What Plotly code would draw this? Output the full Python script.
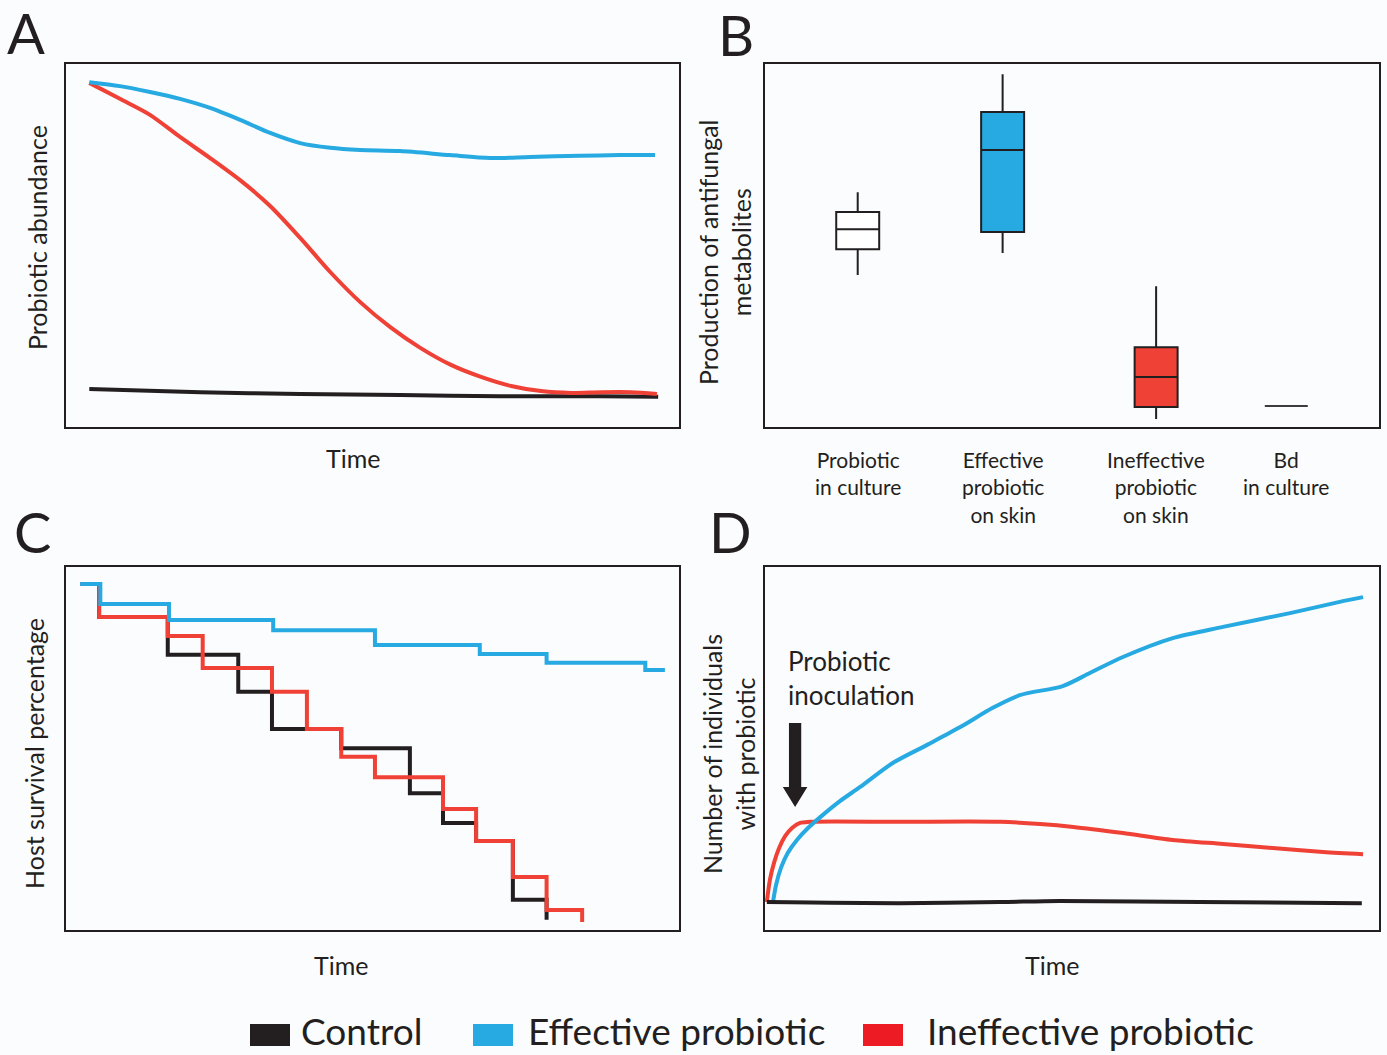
import plotly.graph_objects as go

# ---------------------------------------------------------------- data
# Panel A: probiotic abundance over time (arbitrary units, 0-100)
a_eff_t = [3.8, 8.8, 13.7, 18.6, 23.5, 28.4, 33.3, 38.2, 43.1, 48.0, 54.5, 62.6, 69.2, 75.7, 83.8, 90.4, 96.1]
a_eff_v = [95.0, 93.9, 92.3, 90.4, 87.9, 84.6, 81.0, 78.2, 76.9, 76.3, 76.0, 74.9, 74.1, 74.4, 74.7, 74.9, 74.9]
a_ineff_t = [3.8, 8.8, 13.7, 18.6, 23.5, 28.4, 33.3, 38.2, 43.1, 48.0, 52.9, 57.8, 62.8, 67.7, 72.6, 77.5, 82.4, 87.3, 92.2, 96.4]
a_ineff_v = [94.8, 90.4, 86.0, 79.9, 74.1, 68.0, 60.9, 52.1, 42.7, 34.4, 27.5, 21.8, 17.1, 13.8, 11.3, 9.9, 9.4, 9.6, 9.6, 9.1]
a_ctrl_t = [3.8, 21.9, 38.2, 54.5, 70.8, 87.1, 96.6]
a_ctrl_v = [10.5, 9.6, 9.1, 8.8, 8.5, 8.5, 8.3]

# Panel B: production of antifungal metabolites (box summaries)
b_groups = ["Probiotic<br>in culture", "Effective<br>probiotic<br>on skin",
            "Ineffective<br>probiotic<br>on skin", "Bd<br>in culture"]
b_pos = [15.1, 38.7, 63.7, 84.9]
b_lower = [41.9, 47.9, 2.2, 5.8]
b_q1 = [49.0, 53.7, 5.5, 5.8]
b_median = [54.5, 76.3, 13.8, 5.8]
b_q3 = [59.2, 86.8, 22.0, 5.8]
b_upper = [64.7, 97.2, 38.8, 5.8]

# Panel C: host survival percentage (step curves)
c_eff_t = [2.3, 5.6, 16.8, 33.8, 50.4, 67.5, 78.4, 94.5, 97.7]
c_eff_v = [95.3, 89.8, 85.4, 82.6, 78.5, 76.0, 73.6, 71.6, 71.6]
c_ineff_t = [2.3, 5.4, 16.6, 22.3, 33.6, 39.3, 44.9, 50.4, 61.5, 66.9, 72.9, 78.4, 84.2]
c_ineff_v = [95.3, 86.2, 81.0, 72.2, 65.6, 55.4, 47.7, 42.1, 33.3, 24.5, 14.6, 5.5, 2.2]
c_ctrl_t = [2.3, 5.4, 16.6, 28.1, 33.6, 44.9, 56.1, 61.5, 66.9, 72.9, 78.4]
c_ctrl_v = [95.3, 86.2, 75.8, 65.6, 55.4, 50.1, 37.7, 29.5, 24.5, 8.3, 2.8]

# Panel D: number of individuals carrying the probiotic
d_eff_t = [1.3, 1.8, 2.6, 3.7, 5.2, 7.0, 9.0, 12.2, 15.5, 20.8, 26.4, 31.8, 37.1, 41.5, 48.5, 52.9, 58.3, 66.4, 74.6, 85.5, 93.6, 97.4]
d_eff_v = [7.7, 12.4, 17.1, 21.2, 24.8, 28.1, 31.1, 35.5, 39.4, 46.0, 51.0, 55.9, 61.2, 64.7, 67.2, 70.8, 75.2, 80.4, 83.5, 87.3, 90.4, 91.7]
d_ineff_t = [0.3, 0.8, 1.5, 2.3, 3.3, 4.4, 5.7, 7.3, 22.0, 38.3, 44.8, 50.2, 58.3, 66.4, 74.6, 82.7, 90.9, 97.4]
d_ineff_v = [7.7, 13.8, 18.7, 22.6, 25.9, 28.1, 29.5, 29.8, 29.8, 29.8, 29.2, 28.4, 26.7, 24.8, 23.7, 22.6, 21.5, 20.9]
d_ctrl_t = [0.3, 22.0, 38.3, 48.0, 70.8, 97.2]
d_ctrl_v = [7.7, 7.4, 7.7, 8.0, 7.7, 7.4]
d_inoculation_t = 4.9

legend_names = ["Control", "Effective probiotic", "Ineffective probiotic"]

# ---------------------------------------------------------------- style
W, H = 1387, 1055
BLACK = "#231f20"
BLUE = "#27a9e1"
RED = "#ef4136"
RED_KEY = "#ed1c24"
BG = "#fbfcfe"
FONT = "Lato"
LW = 4
TITLE = 25


def fx(p):
    return p / W


def fy(p):
    return 1 - p / H


# plotting rectangles (left, top, right, bottom) in page pixels
boxes = {
    "": (66, 64, 679, 427),
    "2": (765, 64, 1379, 427),
    "3": (66, 567, 679, 930),
    "4": (765, 567, 1379, 930),
}

fig = go.Figure()


def line(t, v, color, ax, shape="spline"):
    fig.add_trace(go.Scatter(
        x=t, y=v, mode="lines", xaxis="x" + ax, yaxis="y" + ax,
        line=dict(color=color, width=LW, shape=shape,
                  smoothing=0.8 if shape == "spline" else None),
        hoverinfo="skip"))


# A
line(a_ctrl_t, a_ctrl_v, BLACK, "")
line(a_ineff_t, a_ineff_v, RED, "")
line(a_eff_t, a_eff_v, BLUE, "")

# B
fills = ["white", BLUE, RED, "rgba(0,0,0,0)"]
for i in range(len(b_pos)):
    fig.add_trace(go.Box(
        x=[b_pos[i]], q1=[b_q1[i]], median=[b_median[i]], q3=[b_q3[i]],
        lowerfence=[b_lower[i]], upperfence=[b_upper[i]],
        width=7.0, whiskerwidth=0, fillcolor=fills[i],
        line=dict(color=BLACK if i < 3 else "#3d3b3c", width=2),
        xaxis="x2", yaxis="y2", boxpoints=False, hoverinfo="skip"))

# C
line(c_ctrl_t, c_ctrl_v, BLACK, "3", "hv")
line(c_ineff_t, c_ineff_v, RED, "3", "hv")
line(c_eff_t, c_eff_v, BLUE, "3", "hv")

# D
line(d_ineff_t, d_ineff_v, RED, "4")
line(d_eff_t, d_eff_v, BLUE, "4")
line(d_ctrl_t, d_ctrl_v, BLACK, "4")

layout = dict(
    width=W, height=H, margin=dict(l=0, r=0, t=0, b=0),
    paper_bgcolor=BG, plot_bgcolor=BG, showlegend=False,
    font=dict(family=FONT, color=BLACK),
)
for ax, (l, t, r, b) in boxes.items():
    common = dict(range=[0, 100], showgrid=False, zeroline=False,
                  showticklabels=False, ticks="", showline=True, mirror=True,
                  linecolor=BLACK, linewidth=2, fixedrange=True)
    layout["xaxis" + ax] = dict(domain=[fx(l), fx(r)], anchor="y" + ax, **common)
    layout["yaxis" + ax] = dict(domain=[fy(b), fy(t)], anchor="x" + ax, **common)
fig.update_layout(**layout)

ann = []


def text(x, y, s, size, angle=0, xanchor="center", yanchor="middle", align="center"):
    ann.append(dict(x=fx(x), y=fy(y), xref="paper", yref="paper", text=s,
                    showarrow=False, textangle=angle, xanchor=xanchor,
                    yanchor=yanchor, align=align,
                    font=dict(size=size, family=FONT, color=BLACK)))


# panel letters
text(26, 33, "A", 56)
text(736, 34, "B", 56)
text(32, 531, "C", 56)
text(730, 531, "D", 56)

# axis titles
text(37, 238, "Probiotic abundance", TITLE, -90)
text(353, 458, "Time", TITLE)
text(724, 252, "Production of antifungal<br>metabolites", TITLE, -90)
text(34, 754, "Host survival percentage", TITLE, -90)
text(341, 965, "Time", TITLE)
text(728, 754, "Number of individuals<br>with probiotic", TITLE, -90)
text(1052, 965, "Time", TITLE)

# category labels of panel B, placed on the panel's x scale
for pos, lab in zip(b_pos, b_groups):
    ann.append(dict(x=pos, y=fy(445), xref="x2", yref="paper", text=lab,
                    showarrow=False, xanchor="center", yanchor="top",
                    font=dict(size=21, family=FONT, color=BLACK)))

# inoculation note
text(786, 678, "Probiotic<br>inoculation", 26, xanchor="left", align="left")

# legend keys
keys = [(250, BLACK, 299), (473, BLUE, 526), (863, RED_KEY, 925)]
shapes = []
for (kx, col, tx), name in zip(keys, legend_names):
    shapes.append(dict(type="rect", xref="paper", yref="paper",
                       x0=fx(kx), x1=fx(kx + 40), y0=fy(1046), y1=fy(1024),
                       fillcolor=col, line=dict(width=0)))
    text(tx, 1030, name, 37, xanchor="left")

# inoculation arrow on panel D's scale
ax0 = d_inoculation_t
shapes.append(dict(
    type="path", xref="x4", yref="y4",
    path=(f"M {ax0 - 1.0} 57.0 L {ax0 + 1.0} 57.0 L {ax0 + 1.0} 39.4 "
          f"L {ax0 + 2.0} 39.4 L {ax0} 33.9 L {ax0 - 2.0} 39.4 "
          f"L {ax0 - 1.0} 39.4 Z"),
    fillcolor=BLACK, line=dict(width=0)))

fig.update_layout(annotations=ann, shapes=shapes)
fig.write_html("out.html")
